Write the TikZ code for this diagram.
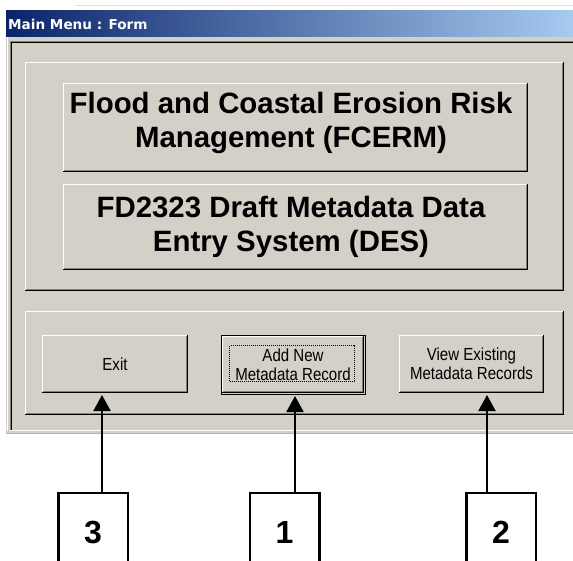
\documentclass[tikz,border=0pt]{standalone}
\usepackage{fontspec}
\setmainfont{Liberation Sans}
\newfontfamily\titlefont{DejaVu Sans}
\newfontfamily\narrowfont{Liberation Sans}[FakeStretch=0.86]
\usetikzlibrary{calc,arrows.meta}

\definecolor{face}{HTML}{D4D0C8}
\definecolor{btnshadow}{HTML}{808080}
\definecolor{titledark}{HTML}{0A246A}
\definecolor{titlelight}{HTML}{A6CAF0}

% raised 3D edge round a node: white top/left, black and grey bottom/right
\newcommand\bevelup[2][0]{%
  \draw[white,line width=1pt]
    ($(#2.south west)+(#1+0.5,-#1-1)$) -- ($(#2.north west)+(#1+0.5,#1+0.5)$)
    -- ($(#2.north east)+(-#1-1,#1+0.5)$);
  \draw[black,line width=1pt]
    ($(#2.south west)+(#1,-#1-0.5)$) -- ($(#2.south east)+(-#1-0.5,-#1-0.5)$)
    -- ($(#2.north east)+(-#1-0.5,#1)$);
  \draw[btnshadow,line width=1pt]
    ($(#2.south west)+(#1+1,-#1-1.5)$) -- ($(#2.south east)+(-#1-1.5,-#1-1.5)$)
    -- ($(#2.north east)+(-#1-1.5,#1+1)$);
}
% trailing space that nudges a centred line to the left
\newcommand\padright{\hspace*{9pt}}

\tikzset{
  panel/.style={fill=face,inner sep=0pt,outer sep=0pt},
  bigbtn/.style={panel,minimum width=465pt,align=center,
    font=\bfseries\fontsize{29.4}{34}\selectfont},
  smallbtn/.style={panel,minimum width=145pt,minimum height=58pt,align=center,
    font=\narrowfont\fontsize{17.5}{19}\selectfont},
  callout/.style={draw=black,fill=white,line width=2.5pt,minimum width=69.5pt,
    minimum height=78pt,inner sep=0pt,font=\bfseries\fontsize{32}{32}\selectfont},
  pointer/.style={draw=black,line width=2pt,
    -{Triangle[width=17pt,length=16pt]},shorten >=2pt},
}

\begin{document}
\begin{tikzpicture}[x=1pt,y=-1pt]
  \useasboundingbox (0,0) rectangle (573,560);
  \clip (0,0) rectangle (573,560);
  \fill[white] (0,0) rectangle (573,560);
  \draw[gray!25,line width=1pt] (75,5.5) -- (573,5.5);

  % window body and caption bar
  \fill[face] (6,36) rectangle (573,434);
  \draw[white,line width=1pt] (7.5,36) -- (7.5,431);
  \draw[btnshadow!60,line width=1pt] (6,433.5) -- (573,433.5);
  \shade[left color=titledark,right color=titlelight] (6,10) rectangle (573,36);
  \node[anchor=base west,inner sep=0pt,text=white,
        font=\titlefont\bfseries\fontsize{13.6}{13.6}\selectfont]
        (caption) at (8,29.3) {Main Menu : Form};

  % sunken client frame
  \draw[btnshadow,line width=1pt] (10.5,431) -- (10.5,41.5) -- (580,41.5);
  \draw[black,line width=1pt] (11.5,430) -- (11.5,42.5) -- (580,42.5);
  \draw[white,line width=1pt] (10,430.5) -- (580,430.5);

  % header panel with its two banner buttons
  \node[panel,minimum width=539pt,minimum height=229pt] (toppanel) at (294.5,176.5) {};
  \bevelup{toppanel}
  \node[bigbtn,minimum height=89pt,text depth=16pt] (fcerm) at (295.5,127.5)
    {Flood and Coastal Erosion Risk\padright\\Management (FCERM)\padright};
  \bevelup{fcerm}
  \node[bigbtn,minimum height=86pt] (des) at (295.5,227)
    {FD2323 Draft Metadata Data\padright\\Entry System (DES)\padright};
  \bevelup{des}

  % command panel
  \node[panel,minimum width=539pt,minimum height=104pt] (botpanel) at (294.5,363) {};
  \bevelup{botpanel}

  \node[smallbtn,minimum width=146pt] (exit) at (115,364) {Exit};
  \bevelup{exit}
  \node[smallbtn,minimum width=144pt,minimum height=59pt,draw=black,line width=1pt]
    (add) at (293,364.5) {Add New\\Metadata Record};
  \bevelup[1]{add}
  \draw[black,line width=1pt,dash pattern=on 1pt off 1pt]
    ($(add.north west)+(8.5,10.5)$) rectangle ($(add.south east)+(-10.5,-12.5)$);
  \node[smallbtn] (view) at (471.5,364) {View Existing\\Metadata Records};
  \bevelup{view}

  % numbered callouts
  \node[callout] (n3) at (93,532) {3};
  \node[callout] (n1) at (284.5,532) {1};
  \node[callout] (n2) at (501,532) {2};

  \draw[pointer] ([xshift=9pt]n3.north) -- ([xshift=-13pt]exit.south);
  \draw[pointer] ([xshift=10.5pt]n1.north) -- ([xshift=2pt]add.south);
  \draw[pointer] ([xshift=-14pt]n2.north) -- ([xshift=15.5pt]view.south);
\end{tikzpicture}
\end{document}
